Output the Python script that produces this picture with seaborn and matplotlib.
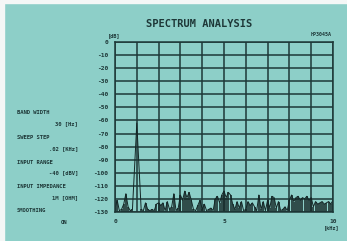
import matplotlib
matplotlib.use("Agg")
import matplotlib.pyplot as plt
import seaborn as sns
import numpy as np
import pandas as pd

# spectrum, one value per 0.1 kHz
freq_khz = [i / 10 for i in range(101)]
level_db = [
    -127, -121, -129, -128, -124, -116, -126, -129, -128, -95,
    -62, -95, -128, -129, -123, -128, -129, -128, -129, -124,
    -123, -125, -123, -129, -122, -128, -126, -116, -129, -127,
    -117, -121, -114, -119, -115, -121, -128, -129, -125, -121,
    -128, -124, -129, -128, -127, -129, -120, -118, -123, -117,
    -114, -119, -115, -117, -124, -128, -122, -127, -122, -129,
    -128, -122, -125, -123, -126, -129, -117, -128, -122, -129,
    -121, -127, -118, -119, -127, -122, -129, -128, -126, -129,
    -121, -117, -122, -119, -118, -121, -119, -120, -118, -121,
    -119, -126, -122, -124, -123, -122, -124, -123, -122, -124,
    -121,
]

y_ticks = list(range(0, -131, -10))
x_ticks = list(range(0, 11))
x_labels = ["0", "", "", "", "", "5", "", "", "", "", "10"]

settings = [
    ("BAND WIDTH", "30 [Hz]"),
    ("SWEEP STEP", ".02 [KHz]"),
    ("INPUT RANGE", "-40 [dBV]"),
    ("INPUT IMPEDANCE", "1M [OHM]"),
    ("SMOOTHING", "ON"),
]

bg = "#8dcfc8"
ink = "#1e3838"
trace = "#142626"

sns.set_theme(style="white")
plt.rcParams["font.family"] = ["DejaVu Sans Mono", "DejaVu Sans"]
plt.rcParams["font.weight"] = "bold"

df = pd.DataFrame({"kHz": freq_khz, "dB": level_db})
noise = df[df["dB"] < -100]

fig = plt.figure(figsize=(3.47, 2.41), dpi=100, facecolor=bg)
W, H = 347, 241
ax = fig.add_axes([115 / W, 1 - 212 / H, (333 - 115) / W, (212 - 42) / H])
ax.set_facecolor(bg)

sns.lineplot(data=df, x="kHz", y="dB", ax=ax, color=trace, linewidth=0.7)
# dense noise floor drawn as stems
ax.vlines(noise["kHz"], -130, noise["dB"], color=trace, linewidth=1.1)

ax.set_xlim(0, 10)
ax.set_ylim(-130, 0)
ax.set_xticks(x_ticks)
ax.set_xticklabels(x_labels)
ax.set_yticks(y_ticks)
ax.set_yticklabels([str(v) for v in y_ticks])
ax.grid(True, color=ink, linewidth=1.1)
ax.set_axisbelow(True)
for s in ax.spines.values():
    s.set_color(ink)
    s.set_linewidth(1.1)
ax.tick_params(length=0, labelsize=4.5, colors=ink)
ax.tick_params(axis="y", pad=5)
ax.tick_params(axis="x", pad=5)
ax.set_xlabel("")
ax.set_ylabel("")

def px(x, y, s, size, ha="left", va="center"):
    fig.text(x / W, 1 - y / H, s, fontsize=size, ha=ha, va=va,
             color=ink, fontweight="bold")

px(199, 24, "SPECTRUM ANALYSIS", 7.5, ha="center")
px(332, 35, "HP3045A", 3.6, ha="right")
px(114, 36, "[dB]", 3.8, ha="center")
px(332, 228, "[kHz]", 3.8, ha="center")

y0 = 113
for name, val in settings:
    px(17, y0, name, 4.0)
    if val == "ON":
        px(64, y0 + 11, val, 4.0, ha="center")
    else:
        px(78, y0 + 11, val, 4.0, ha="right")
    y0 += 24.5

# white photo edge at top and left
fig.patches.append(plt.Rectangle((0, 1 - 3 / H), 1, 3 / H, transform=fig.transFigure,
                                 color="#f4f7f6", zorder=10))
fig.patches.append(plt.Rectangle((0, 0), 4 / W, 1, transform=fig.transFigure,
                                 color="#f4f7f6", zorder=10))

fig.savefig("out.png", dpi=100, facecolor=bg)
